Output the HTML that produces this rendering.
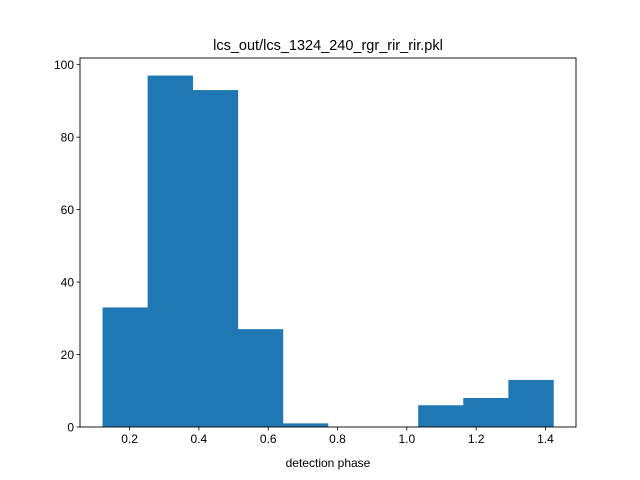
<!DOCTYPE html>
<html><head><meta charset="utf-8"><style>body{margin:0;background:#fff}svg{display:block;font-family:"Liberation Sans","DejaVu Sans",sans-serif}</style></head>
<body>
<svg id="chart" width="640" height="480">
<rect width="640" height="480" fill="#fff"/>
<text x="328" y="50" font-size="14.5" text-anchor="middle">lcs_out/lcs_1324_240_rgr_rir_rir.pkl</text>
<g id="bars"></g>
<rect x="80" y="58" width="496" height="369" fill="none" stroke="#000" stroke-width="0.9"/>
<g id="xt"></g><g id="yt"></g>
<text x="328" y="467" font-size="12" text-anchor="middle">detection phase</text>
</svg>
<script>
const binStart = 0.122;
const binEnd = 1.423;
const counts = [33, 97, 93, 27, 1, 0, 0, 6, 8, 13];
const xTicks = [0.2, 0.4, 0.6, 0.8, 1.0, 1.2, 1.4];
const xTickLabels = ["0.2", "0.4", "0.6", "0.8", "1.0", "1.2", "1.4"];
const yTicks = [0, 20, 40, 60, 80, 100];
const NS = "http://www.w3.org/2000/svg";
const L = 80, R = 576, T = 58, B = 427;
const pad = (binEnd - binStart) * 0.05;
const xmin = binStart - pad, xmax = binEnd + pad;
const ymax = Math.max(...counts) * 1.05;
const sx = v => L + (v - xmin) / (xmax - xmin) * (R - L);
const sy = v => B - v / ymax * (B - T);
function mk(tag, attrs, parent) { const e = document.createElementNS(NS, tag); for (const k in attrs) e.setAttribute(k, attrs[k]); parent.appendChild(e); return e; }
const bars = document.getElementById("bars");
const w = (binEnd - binStart) / counts.length;
counts.forEach((c, i) => {
  const x0 = sx(binStart + i * w), x1 = sx(binStart + (i + 1) * w);
  const r = mk("rect", { x: x0, y: sy(c), width: x1 - x0 + 0.3, height: B - sy(c), fill: "#1f77b4" }, bars);
  
  
});
const xt = document.getElementById("xt");
xTicks.forEach((v, i) => {
  const x = sx(v);
  mk("line", { x1: x, x2: x, y1: B, y2: B + 3.5, stroke: "#000", "stroke-width": 0.8 }, xt);
  const t = mk("text", { x: x, y: B + 16, "font-size": 12, "text-anchor": "middle" }, xt);
  t.textContent = xTickLabels[i];
  
  
});
const yt = document.getElementById("yt");
yTicks.forEach(v => {
  const y = sy(v);
  mk("line", { x1: L - 3.5, x2: L, y1: y, y2: y, stroke: "#000", "stroke-width": 0.8 }, yt);
  const t = mk("text", { x: L - 6, y: y + 4.5, "font-size": 12, "text-anchor": "end" }, yt);
  t.textContent = v;
  
  
});
</script>
</body></html>
